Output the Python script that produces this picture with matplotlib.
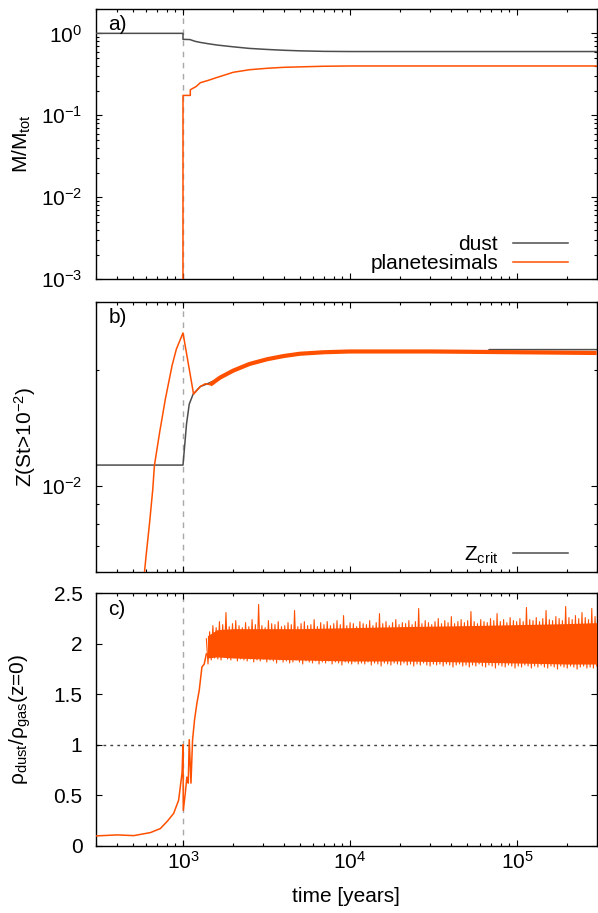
import numpy as np
import matplotlib
matplotlib.use('Agg')
import matplotlib.pyplot as plt
from matplotlib.ticker import LogLocator, NullFormatter

plt.rcParams['font.family'] = ['Liberation Sans', 'DejaVu Sans']
plt.rcParams['mathtext.fontset'] = 'custom'
plt.rcParams['mathtext.rm'] = 'Liberation Sans'
plt.rcParams['mathtext.it'] = 'Liberation Sans:italic'
plt.rcParams['axes.unicode_minus'] = False
plt.rcParams['font.size'] = 15

GRAY = '#4d4d4d'
ORANGE = '#ff5000'

# ---- a) mass fractions
t_dust = [300, 1000, 1000, 1100, 1180, 1270, 1400, 1600, 2000, 2500, 3200, 4000, 5000, 7000, 1e4, 3e5]
m_dust = [1.0, 1.0, 0.845, 0.84, 0.80, 0.775, 0.75, 0.72, 0.685, 0.655, 0.636, 0.622, 0.612, 0.603, 0.60, 0.60]
t_plan = [300, 999, 1000, 1106, 1106, 1200, 1270, 1400, 1600, 2000, 2500, 3200, 4000, 5000, 7000, 1e4, 3e5]
m_plan = [1e-6, 1e-6, 0.175, 0.175, 0.205, 0.225, 0.250, 0.265, 0.29, 0.335, 0.36, 0.375, 0.385, 0.39, 0.397, 0.40, 0.40]

# ---- b) metallicity of large grains
t_crit = [300, 1000, 1050, 1090, 1150, 1270, 1400, 1700, 2000, 2500, 3200, 4000, 5000, 7000, 1e4, 3e4, 6.8e4, 6.8e4, 3e5]
z_crit = [0.01134, 0.01134, 0.0145, 0.0163, 0.0173, 0.0181, 0.0184, 0.0191, 0.0199, 0.0207, 0.0213, 0.0217, 0.0220,
          0.0222, 0.0223, 0.0224, 0.0224, 0.02255, 0.02255]
t_zb = [300, 400, 500, 560, 588, 601, 630, 659, 674, 725, 784, 860, 912, 1000, 1157, 1268, 1359, 1456]
zb = [0.0008, 0.0018, 0.0035, 0.0051, 0.0060, 0.0066, 0.0080, 0.0098, 0.0113, 0.0138, 0.0168, 0.0205,
      0.0226, 0.0249, 0.0173, 0.0181, 0.0184, 0.0183]
t_zb_late = [1456, 1670, 2000, 2500, 3200, 4000, 5000, 7000, 1e4, 3e4, 1e5, 3e5]
zb_late = [0.0183, 0.0191, 0.0199, 0.0207, 0.0213, 0.0217, 0.0220, 0.0222, 0.0223, 0.0223, 0.0222, 0.0221]

# ---- c) midplane dust-to-gas ratio
t_rho = [300, 404, 507, 638, 732, 803, 879, 941, 987, 1000, 1004, 1032, 1055, 1075, 1090, 1116, 1141,
         1173, 1211, 1251, 1298, 1340, 1380]
rho = [0.097, 0.107, 0.10, 0.13, 0.17, 0.24, 0.32, 0.45, 0.72, 1.0, 0.35, 0.52, 0.68, 0.62, 1.05, 0.62, 1.05,
       1.25, 1.41, 1.54, 1.77, 1.80, 1.90]
rho_hi = [2.05, 2.12, 2.18, 2.16, 2.22, 2.19, 2.31, 2.17, 2.20, 2.23, 2.18, 2.16,
          2.21, 2.17, 2.24, 2.19, 2.39, 2.18, 2.16, 2.23, 2.20, 2.19, 2.22, 2.17,
          2.18, 2.21, 2.19, 2.33, 2.17, 2.20, 2.22, 2.18, 2.19, 2.24, 2.17, 2.21,
          2.19, 2.22, 2.18, 2.20, 2.23, 2.19, 2.28, 2.18, 2.21, 2.20, 2.17, 2.22,
          2.20, 2.19, 2.23, 2.18, 2.21, 2.30, 2.20, 2.22, 2.18, 2.21, 2.24, 2.19,
          2.21, 2.20, 2.23, 2.19, 2.22, 2.35, 2.20, 2.23, 2.21, 2.19, 2.22, 2.25,
          2.20, 2.23, 2.21, 2.27, 2.20, 2.22, 2.24, 2.21, 2.23, 2.32, 2.22, 2.20,
          2.24, 2.22, 2.21, 2.25, 2.23, 2.30, 2.22, 2.24, 2.21, 2.26, 2.23, 2.22,
          2.25, 2.22, 2.36, 2.24, 2.23, 2.26, 2.22, 2.25, 2.33, 2.24, 2.23, 2.27,
          2.25, 2.23, 2.37, 2.26, 2.24, 2.28, 2.25, 2.31, 2.26, 2.24, 2.35, 2.27]
rho_lo = [1.80, 1.84, 1.86, 1.85, 1.84, 1.87, 1.85, 1.84, 1.86, 1.83, 1.85, 1.84,
          1.83, 1.85, 1.82, 1.84, 1.83, 1.85, 1.82, 1.84, 1.83, 1.81, 1.84, 1.82,
          1.83, 1.81, 1.82, 1.84, 1.82, 1.80, 1.83, 1.82, 1.81, 1.83, 1.80, 1.82,
          1.81, 1.83, 1.80, 1.82, 1.81, 1.79, 1.82, 1.81, 1.80, 1.82, 1.80, 1.81,
          1.80, 1.82, 1.79, 1.81, 1.80, 1.78, 1.81, 1.80, 1.79, 1.81, 1.80, 1.79,
          1.81, 1.79, 1.80, 1.78, 1.80, 1.79, 1.81, 1.79, 1.78, 1.80, 1.79, 1.80,
          1.78, 1.80, 1.79, 1.77, 1.79, 1.80, 1.78, 1.79, 1.77, 1.79, 1.78, 1.80,
          1.78, 1.77, 1.79, 1.78, 1.76, 1.79, 1.78, 1.77, 1.79, 1.78, 1.76, 1.78,
          1.77, 1.79, 1.78, 1.76, 1.78, 1.77, 1.79, 1.77, 1.76, 1.78, 1.77, 1.75,
          1.78, 1.77, 1.76, 1.78, 1.77, 1.75, 1.77, 1.78, 1.76, 1.77, 1.76, 1.78]
t_band = [1400, 1600, 2000, 3000, 5000, 1e4, 2e4, 5e4, 1e5, 2e5, 3e5]
band_lo = [1.86, 1.87, 1.86, 1.85, 1.84, 1.83, 1.83, 1.82, 1.81, 1.80, 1.80]
band_hi = [2.08, 2.14, 2.15, 2.15, 2.15, 2.16, 2.17, 2.18, 2.19, 2.20, 2.21]

t_zz = np.geomspace(1380, 3e5, 2 * len(rho_hi))
rho_zz = np.empty(2 * len(rho_hi))
rho_zz[0::2] = rho_hi
rho_zz[1::2] = rho_lo

fig = plt.figure(figsize=(5.98, 9.13), dpi=100)
ax_a = fig.add_axes([0.1600, 0.6941, 0.8378, 0.2964])
ax_b = fig.add_axes([0.1600, 0.3735, 0.8378, 0.2961])
ax_c = fig.add_axes([0.1600, 0.0737, 0.8378, 0.2764])

for ax in (ax_a, ax_b, ax_c):
    ax.set_xscale('log')
    ax.set_xlim(300, 3e5)
    ax.axvline(1000, color='#a8a8a8', ls=(0, (4, 4)), lw=1.0, zorder=1)
    ax.xaxis.set_minor_locator(LogLocator(base=10, subs=np.arange(2, 10)))
    ax.xaxis.set_minor_formatter(NullFormatter())
    ax.tick_params(which='both', direction='in', top=True, right=True, width=0.8)
    ax.tick_params(which='major', length=4.5, pad=9.5)
    ax.tick_params(which='minor', length=2.5)
    ax.tick_params(axis='x', which='major', pad=4)
    for s in ax.spines.values():
        s.set_linewidth(1.0)

# a)
ax_a.plot(t_dust, m_dust, color=GRAY, lw=1.1, label='dust', zorder=3)
ax_a.plot(t_plan, m_plan, color=ORANGE, lw=1.1, label='planetesimals', zorder=3)
ax_a.set_yscale('log')
ax_a.set_ylim(1e-3, 2)
ax_a.yaxis.set_minor_locator(LogLocator(base=10, subs=np.arange(2, 10)))
ax_a.yaxis.set_minor_formatter(NullFormatter())
ax_a.tick_params(axis='x', labelbottom=False)
ax_a.set_ylabel('M/M$_{\\rm tot}$')
ax_a.yaxis.set_label_coords(-0.125, 0.5)
ax_a.text(0.025, 0.943, 'a)', transform=ax_a.transAxes, va='center', ha='left')
ax_a.legend(loc='lower right', markerfirst=False, frameon=False, handlelength=2.65,
            handletextpad=0.7, labelspacing=0.0, borderaxespad=0.2, borderpad=0.1,
            bbox_to_anchor=(0.955, 0.0))

# b)
ax_b.plot(t_crit, z_crit, color=GRAY, lw=1.1, label='Z$_{\\rm crit}$', zorder=2)
ax_b.plot(t_zb, zb, color=ORANGE, lw=1.1, zorder=3)
ax_b.plot(t_zb_late, zb_late, color=ORANGE, lw=3.0, zorder=3, solid_capstyle='butt')
ax_b.set_yscale('log')
ax_b.set_ylim(0.006, 0.03)
ax_b.yaxis.set_minor_locator(LogLocator(base=10, subs=np.arange(2, 10)))
ax_b.yaxis.set_minor_formatter(NullFormatter())
ax_b.tick_params(axis='x', labelbottom=False)
ax_b.set_ylabel('Z(St>10$^{-2}$)')
ax_b.yaxis.set_label_coords(-0.115, 0.5)
ax_b.text(0.025, 0.943, 'b)', transform=ax_b.transAxes, va='center', ha='left')
ax_b.legend(loc='lower right', markerfirst=False, frameon=False, handlelength=2.65,
            handletextpad=0.7, borderaxespad=0.2, borderpad=0.1,
            bbox_to_anchor=(0.955, 0.0))

# c)
ax_c.axhline(1.0, color='#404040', ls=(0, (2, 3)), lw=1.0, zorder=1)
ax_c.plot(t_rho, rho, color=ORANGE, lw=1.1, zorder=3)
ax_c.fill_between(t_band, band_lo, band_hi, color=ORANGE, lw=0, zorder=3)
ax_c.plot(t_zz, rho_zz, color=ORANGE, lw=0.8, zorder=3)
ax_c.set_ylim(0, 2.5)
ax_c.set_yticks([0, 0.5, 1, 1.5, 2, 2.5], ['0', '0.5', '1', '1.5', '2', '2.5'])
ax_c.set_ylabel('ρ$_{\\rm dust}$/ρ$_{\\rm gas}$(z=0)')
ax_c.yaxis.set_label_coords(-0.125, 0.5)
ax_c.set_xlabel('time [years]', labelpad=10)
ax_c.text(0.025, 0.938, 'c)', transform=ax_c.transAxes, va='center', ha='left')

fig.savefig('out.png', dpi=100)
